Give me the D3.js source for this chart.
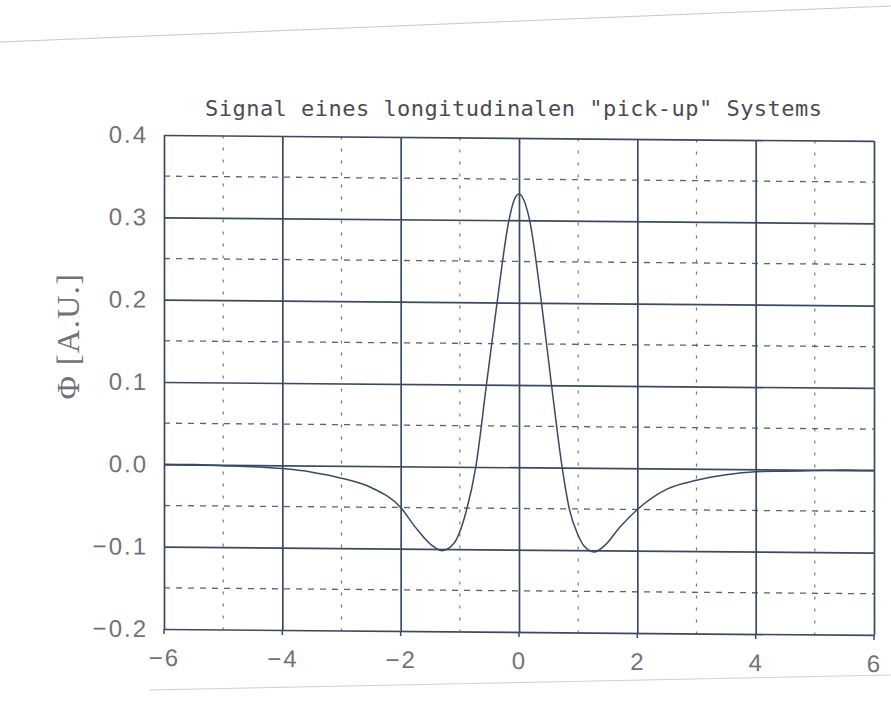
<!DOCTYPE html>
<html>
<head>
<meta charset="utf-8">
<script src="https://cdn.jsdelivr.net/npm/d3@7"></script>
<style>
	html, body { margin: 0; padding: 0; background: #ffffff; }
	svg { display: block; }
</style>
</head>
<body>
<div id="chart"></div>
<script>
'use strict';

	// Values
	var arrayX = [-6, -5.5, -5, -4.5, -4, -3.5, -3, -2.5, -2, -1.75, -1.5, -1.3, -1.1, -0.9, -0.73, -0.55, -0.37, -0.17, -0.08, 0,
		0.08, 0.18, 0.38, 0.55, 0.73, 0.85, 1.0, 1.1, 1.27, 1.45, 1.7, 2.0, 2.5, 3.0, 3.5, 4.0, 4.5, 5.0, 5.5, 6];
	var arrayPhi = [0, 0, -0.001, -0.002, -0.004, -0.008, -0.015, -0.026, -0.05, -0.074, -0.094, -0.102, -0.093, -0.056, 0, 0.1, 0.2, 0.3, 0.325, 0.332,
		0.325, 0.3, 0.2, 0.1, 0, -0.05, -0.082, -0.095, -0.102, -0.094, -0.072, -0.05, -0.025, -0.014, -0.007, -0.003, -0.002, -0.001, 0, 0];

	var arrayXTicks = [-6, -4, -2, 0, 2, 4, 6];
	var arrayXMinor = [-5, -3, -1, 1, 3, 5];
	var arrayYTicks = [-0.2, -0.1, 0.0, 0.1, 0.2, 0.3, 0.4];
	var arrayYMinor = [-0.15, -0.05, 0.05, 0.15, 0.25, 0.35];

	var strTitle = 'Signal eines longitudinalen "pick-up" Systems';
	var strYLabel = '\u03A6 [A.U.]';

	var nWidth = 891;
	var nHeight = 706;
	var nLeft = 164;
	var nRight = 874;
	var nTop = 135;
	var nBottom = 629;
	var fSkew = 0.48; // the scan is slightly sheared

	var strInk = '#3b4a62';
	var strText = '#707276';

	var svg = d3.select('#chart').append('svg')
		.attr('width', nWidth)
		.attr('height', nHeight);

	// faint page edges of the scan
	svg.append('line')
		.attr('x1', 0).attr('y1', 42).attr('x2', nWidth).attr('y2', 6)
		.attr('stroke', '#c8c8c8').attr('stroke-width', 1);
	svg.append('line')
		.attr('x1', 150).attr('y1', 690).attr('x2', nWidth).attr('y2', 675)
		.attr('stroke', '#d0d0d0').attr('stroke-width', 1);

	var x = d3.scaleLinear().domain([-6, 6]).range([nLeft, nRight]);
	var y = d3.scaleLinear().domain([-0.2, 0.4]).range([nBottom, nTop]);

	var g = svg.append('g')
		.attr('transform', 'translate(' + nLeft + ',0) skewY(' + fSkew + ') translate(' + (-nLeft) + ',0)');

	// minor grid
	g.selectAll('line.xminor')
		.data(arrayXMinor)
		.enter()
		.append('line')
			.attr('class', 'xminor')
			.attr('x1', function(d) { return x(d); })
			.attr('x2', function(d) { return x(d); })
			.attr('y1', nTop)
			.attr('y2', nBottom)
			.attr('stroke', strInk)
			.attr('stroke-opacity', 0.75)
			.attr('stroke-width', 1.2)
			.attr('stroke-dasharray', '3,9');

	g.selectAll('line.yminor')
		.data(arrayYMinor)
		.enter()
		.append('line')
			.attr('class', 'yminor')
			.attr('x1', nLeft)
			.attr('x2', nRight)
			.attr('y1', function(d) { return y(d); })
			.attr('y2', function(d) { return y(d); })
			.attr('stroke', strInk)
			.attr('stroke-opacity', 0.85)
			.attr('stroke-width', 1.3)
			.attr('stroke-dasharray', '6,6');

	// major grid
	var axisX = d3.axisBottom(x)
		.tickValues(arrayXTicks)
		.tickSize(-(nBottom - nTop))
		.tickPadding(20)
		.tickFormat(d3.format('d'));
	var axisY = d3.axisLeft(y)
		.tickValues(arrayYTicks)
		.tickSize(-(nRight - nLeft))
		.tickPadding(16)
		.tickFormat(d3.format('.1f'));

	var gX = g.append('g')
		.attr('transform', 'translate(0,' + nBottom + ')')
		.call(axisX);
	var gY = g.append('g')
		.attr('transform', 'translate(' + nLeft + ',0)')
		.call(axisY);

	[gX, gY].forEach(function(gAxis)
	{
		gAxis.select('.domain').remove();
		gAxis.selectAll('.tick line')
			.attr('stroke', strInk)
			.attr('stroke-width', 1.7);
		gAxis.selectAll('.tick text')
			.attr('fill', strText)
			.style('font-family', '"Liberation Sans", Arial, sans-serif')
			.style('font-size', '24px')
			.style('letter-spacing', '2px');
	});

	// small tick stubs below the frame
	g.selectAll('line.stub')
		.data(arrayXTicks)
		.enter()
		.append('line')
			.attr('class', 'stub')
			.attr('x1', function(d) { return x(d); })
			.attr('x2', function(d) { return x(d); })
			.attr('y1', nBottom)
			.attr('y2', nBottom + 5)
			.attr('stroke', strInk)
			.attr('stroke-width', 1.5);

	// signal curve
	var line = d3.line()
		.x(function(d, i) { return x(arrayX[i]); })
		.y(function(d) { return y(d); })
		.curve(d3.curveMonotoneX);

	g.append('path')
		.datum(arrayPhi)
		.attr('d', line)
		.attr('fill', 'none')
		.attr('stroke', strInk)
		.attr('stroke-width', 1.5);

	// title
	svg.append('text')
		.attr('x', 205)
		.attr('y', 116)
		.attr('textLength', 617)
		.attr('lengthAdjust', 'spacing')
		.attr('fill', '#4a4c52')
		.style('font-family', '"DejaVu Sans Mono", monospace')
		.style('font-size', '22px')
		.text(strTitle);

	// y label
	svg.append('text')
		.attr('transform', 'translate(79,336) rotate(-90)')
		.attr('text-anchor', 'middle')
		.attr('fill', strText)
		.style('font-family', '"Liberation Serif", "Times New Roman", serif')
		.style('font-size', '32px')
		.style('letter-spacing', '1.5px')
		.text(strYLabel);
</script>
</body>
</html>
